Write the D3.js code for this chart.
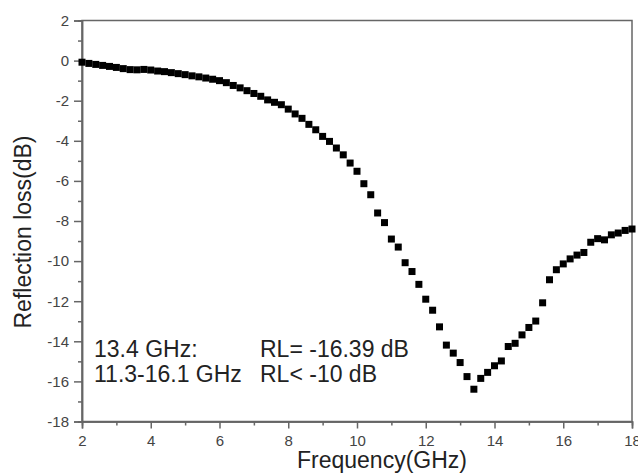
<!DOCTYPE html>
<html>
<head>
<meta charset="utf-8">
<script src="https://cdn.jsdelivr.net/npm/d3@7/dist/d3.min.js"></script>
<style>
  html, body { margin: 0; padding: 0; background: #fff; }
  svg { display: block; font-family: "Liberation Sans", Arial, sans-serif; }
</style>
</head>
<body>
<svg id="chart" width="638" height="474"></svg>
<script>
// ---- data ----
const frequency = [
  2.0, 2.2, 2.4, 2.6, 2.8, 3.0, 3.2, 3.4, 3.6, 3.8,
  4.0, 4.2, 4.4, 4.6, 4.8, 5.0, 5.2, 5.4, 5.6, 5.8,
  6.0, 6.2, 6.4, 6.6, 6.8, 7.0, 7.2, 7.4, 7.6, 7.8,
  8.0, 8.2, 8.4, 8.6, 8.8, 9.0, 9.2, 9.4, 9.6, 9.8,
  10.0, 10.2, 10.4, 10.6, 10.8, 11.0, 11.2, 11.4, 11.6, 11.8,
  12.0, 12.2, 12.4, 12.6, 12.8, 13.0, 13.2, 13.4, 13.6, 13.8,
  14.0, 14.2, 14.4, 14.6, 14.8, 15.0, 15.2, 15.4, 15.6, 15.8,
  16.0, 16.2, 16.4, 16.6, 16.8, 17.0, 17.2, 17.4, 17.6, 17.8,
  18.0
];
const reflectionLoss = [
  -0.08, -0.14, -0.19, -0.24, -0.29, -0.34, -0.40, -0.45, -0.46, -0.44,
  -0.47, -0.52, -0.55, -0.60, -0.65, -0.70, -0.76, -0.81, -0.87, -0.93,
  -1.00, -1.10, -1.24, -1.36, -1.50, -1.64, -1.78, -1.96, -2.08, -2.20,
  -2.42, -2.66, -2.88, -3.18, -3.45, -3.78, -4.03, -4.36, -4.70, -5.11,
  -5.52, -6.14, -6.69, -7.60, -8.08, -8.90, -9.30, -10.08, -10.52, -11.16,
  -11.90, -12.45, -13.28, -14.19, -14.59, -15.06, -15.76, -16.39, -15.85, -15.55,
  -15.22, -14.98, -14.26, -14.10, -13.68, -13.31, -12.99, -12.08, -10.93, -10.43,
  -10.14, -9.89, -9.70, -9.57, -9.06, -8.88, -8.94, -8.69, -8.60, -8.47,
  -8.40
];
const xTicks = [2, 4, 6, 8, 10, 12, 14, 16, 18];
const xMinorTicks = [3, 5, 7, 9, 11, 13, 15, 17];
const yTicks = [2, 0, -2, -4, -6, -8, -10, -12, -14, -16, -18];
const yMinorTicks = [1, -1, -3, -5, -7, -9, -11, -13, -15, -17];
const xTitle = "Frequency(GHz)";
const yTitle = "Reflection loss(dB)";
const annotations = [
  ["13.4 GHz:", "RL= -16.39 dB"],
  ["11.3-16.1 GHz", "RL< -10 dB"]
];

// ---- layout ----
const svg = d3.select("#chart");
const pLeft = 82, pRight = 632, pTop = 20.5, pBottom = 421.5;
const x = d3.scaleLinear().domain([2, 18]).range([pLeft, pRight]);
const y = d3.scaleLinear().domain([-18, 2]).range([pBottom, pTop]);
const axisColor = "#666";
const labelColor = "#444";
const fmt = d => String(d);

// frame
svg.append("rect")
  .attr("x", pLeft).attr("y", pTop)
  .attr("width", pRight - pLeft).attr("height", pBottom - pTop)
  .attr("fill", "none").attr("stroke", axisColor).attr("stroke-width", 1.5);

// x axis
const xAxis = svg.append("g").attr("transform", `translate(0,${pBottom})`)
  .call(d3.axisBottom(x).tickValues(xTicks).tickSize(7).tickPadding(7).tickFormat(fmt));
const xMinor = svg.append("g").attr("transform", `translate(0,${pBottom})`)
  .call(d3.axisBottom(x).tickValues(xMinorTicks).tickSize(4).tickFormat(""));
// y axis
const yAxis = svg.append("g").attr("transform", `translate(${pLeft},0)`)
  .call(d3.axisLeft(y).tickValues(yTicks).tickSize(8).tickPadding(5).tickFormat(fmt));
const yMinor = svg.append("g").attr("transform", `translate(${pLeft},0)`)
  .call(d3.axisLeft(y).tickValues(yMinorTicks).tickSize(4).tickFormat(""));

[xAxis, xMinor, yAxis, yMinor].forEach(g => {
  g.select(".domain").attr("stroke", axisColor).attr("stroke-width", 1.5);
  g.selectAll(".tick line").attr("stroke", axisColor).attr("stroke-width", 1.5);
  g.selectAll(".tick text").attr("fill", labelColor).style("font-size", "15px")
    .style("font-family", '"Liberation Sans", Arial, sans-serif');
});

// titles
svg.append("text")
  .attr("x", 382).attr("y", 468)
  .attr("text-anchor", "middle")
  .attr("fill", "#222").style("font-size", "23px")
  .text(xTitle);
svg.append("text")
  .attr("transform", `translate(31,${232}) rotate(-90)`)
  .attr("text-anchor", "middle")
  .attr("fill", "#222").style("font-size", "23px")
  .text(yTitle);

// markers
const ms = 7;
svg.append("g").selectAll("rect")
  .data(frequency.map((f, i) => [f, reflectionLoss[i]]))
  .join("rect")
  .attr("x", d => x(d[0]) - ms / 2)
  .attr("y", d => y(d[1]) - ms / 2)
  .attr("width", ms).attr("height", ms)
  .attr("fill", "#000");

// annotation
const ann = svg.append("g").attr("fill", "#222").style("font-size", "23px");
annotations.forEach((row, i) => {
  ann.append("text").attr("x", 94).attr("y", 357 + i * 25).text(row[0]);
  ann.append("text").attr("x", 260).attr("y", 357 + i * 25).text(row[1]);
});
</script>
</body>
</html>
